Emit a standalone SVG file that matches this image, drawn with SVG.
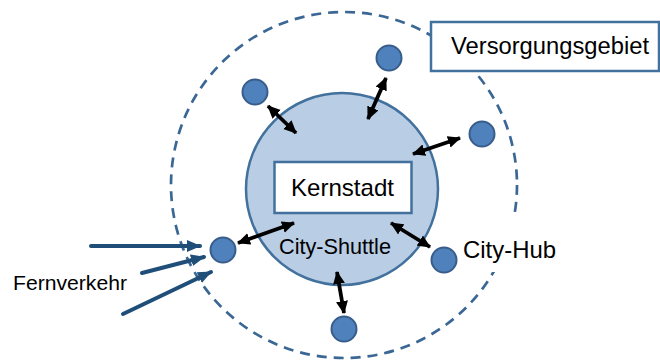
<svg xmlns="http://www.w3.org/2000/svg" width="660" height="361" viewBox="0 0 660 361">
<style>
.lbl{font-family:"Liberation Sans",Arial,sans-serif;fill:#000}
.hub{fill:#4F81BD;stroke:#385D8A;stroke-width:2}
.box{fill:#fff;stroke:#41719C;stroke-width:2.5}
.dbl{stroke:#000;stroke-width:3.8;fill:none;marker-start:url(#ah);marker-end:url(#ah)}
.fv{stroke:#1F4E79;stroke-width:4;fill:none;stroke-linecap:round;marker-end:url(#bh)}
</style>
<defs>
<marker id="ah" markerUnits="userSpaceOnUse" markerWidth="13" markerHeight="13" viewBox="0 0 13 13" refX="12" refY="6.5" orient="auto-start-reverse">
<path d="M0,0.5 L13,6.5 L0,12.5 Z" fill="#000"/>
</marker>
<marker id="bh" markerUnits="userSpaceOnUse" markerWidth="14" markerHeight="14" viewBox="0 0 14 14" refX="13" refY="7" orient="auto">
<path d="M0,1 L14,7 L0,13 Z" fill="#1F4E79"/>
</marker>
</defs>
<rect width="660" height="361" fill="#fff"/>
<g id="versorgungsgebiet-area">
<circle cx="344" cy="185" r="173" fill="none" stroke="#3B6795" stroke-width="2.7" stroke-dasharray="10 7"/>
</g>
<g id="kernstadt-area">
<circle cx="342" cy="189" r="96" fill="#B9CDE5" stroke="#41719C" stroke-width="2.5"/>
</g>
<g id="kernstadt">
<rect class="box" x="274.5" y="162" width="137" height="51"/>
<text class="lbl" x="291" y="196" font-size="24" textLength="103" lengthAdjust="spacingAndGlyphs">Kernstadt</text>
</g>
<g id="versorgungsgebiet">
<rect class="box" x="431" y="22" width="228" height="49"/>
<text class="lbl" x="451" y="54" font-size="23.5" textLength="198" lengthAdjust="spacingAndGlyphs">Versorgungsgebiet</text>
</g>
<g id="city-hub-label">
<rect x="459" y="214" width="100" height="58" fill="#fff"/>
<text class="lbl" x="463" y="258" font-size="24" textLength="93" lengthAdjust="spacingAndGlyphs">City-Hub</text>
</g>
<g id="city-shuttle-label">
<text class="lbl" x="279" y="254" font-size="22" textLength="112" lengthAdjust="spacingAndGlyphs">City-Shuttle</text>
</g>
<g id="fernverkehr-label">
<text class="lbl" x="13" y="290" font-size="20" textLength="114" lengthAdjust="spacingAndGlyphs">Fernverkehr</text>
</g>
<g id="hub-top-left"><circle class="hub" cx="255" cy="92" r="12.5"/></g>
<g id="hub-top"><circle class="hub" cx="389" cy="58" r="12.5"/></g>
<g id="hub-right"><circle class="hub" cx="482" cy="134" r="12.5"/></g>
<g id="hub-left"><circle class="hub" cx="223" cy="250" r="12.5"/></g>
<g id="hub-bottom-right"><circle class="hub" cx="444" cy="260" r="12.5"/></g>
<g id="hub-bottom"><circle class="hub" cx="344" cy="329" r="12.5"/></g>
<g id="connectors">
<line class="dbl" x1="268" y1="106" x2="296" y2="133"/>
<line class="dbl" x1="386" y1="78" x2="368" y2="119"/>
<line class="dbl" x1="460" y1="138" x2="413" y2="154"/>
<line class="dbl" x1="238" y1="243" x2="294" y2="223"/>
<line class="dbl" x1="391" y1="223" x2="430" y2="247"/>
<line class="dbl" x1="337" y1="272" x2="344" y2="313"/>
<line class="fv" x1="91" y1="246" x2="200" y2="246"/>
<line class="fv" x1="142" y1="273" x2="204" y2="257"/>
<line class="fv" x1="123" y1="314" x2="211" y2="272"/>
</g>
</svg>
